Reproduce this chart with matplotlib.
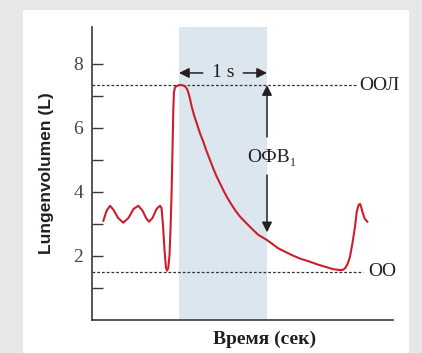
import matplotlib
matplotlib.use("Agg")
import matplotlib.pyplot as plt
from matplotlib.patches import Rectangle

# ---- data (time in s, shaded window = first second; volume in L) ----
time_s = [-0.860, -0.824, -0.784, -0.744, -0.693, -0.633, -0.574, -0.517, -0.4625, -0.415,
          -0.375, -0.341, -0.301, -0.256, -0.216, -0.199, -0.182, -0.165, -0.148, -0.136,
          -0.122, -0.108, -0.097, -0.085, -0.074, -0.065, -0.057, -0.045, -0.026, 0.011,
          0.045, 0.068, 0.091, 0.108, 0.125, 0.144, 0.170, 0.201, 0.239, 0.276,
          0.3125, 0.352, 0.390, 0.428, 0.466, 0.503, 0.545, 0.591, 0.636, 0.693,
          0.750, 0.818, 0.901, 1.000, 1.128, 1.281, 1.375, 1.489, 1.580, 1.678,
          1.750, 1.830, 1.864, 1.892, 1.920, 1.943, 1.972, 2.000, 2.020, 2.040,
          2.057, 2.070, 2.090, 2.110, 2.140]
volume_l = [3.10, 3.41, 3.57, 3.44, 3.19, 3.04, 3.19, 3.47, 3.57, 3.42,
            3.19, 3.07, 3.19, 3.47, 3.57, 3.50, 2.97, 2.19, 1.63, 1.54,
            1.63, 2.03, 2.81, 3.91, 5.31, 6.56, 7.13, 7.27, 7.31, 7.35,
            7.33, 7.30, 7.22, 7.09, 6.91, 6.67, 6.41, 6.15, 5.83, 5.57,
            5.28, 5.00, 4.73, 4.48, 4.27, 4.06, 3.84, 3.63, 3.44, 3.23,
            3.07, 2.88, 2.66, 2.50, 2.24, 2.03, 1.92, 1.82, 1.73, 1.65,
            1.59, 1.56, 1.57, 1.63, 1.78, 1.98, 2.41, 2.92, 3.38, 3.59,
            3.63, 3.53, 3.33, 3.17, 3.07]

tlc_level = 7.34     # ООЛ
rv_level = 1.50      # ОО
window = [0.0, 1.0]  # 1 s
major_ticks = [2, 4, 6, 8]
minor_ticks = [1, 3, 5, 7]
tick_labels = ["2", "4", "6", "8"]

serif = ["Liberation Serif", "DejaVu Serif"]
dark = "#231f20"
axis_col = "#3a3a3a"

fig = plt.figure(figsize=(4.22, 3.53), dpi=100)
fig.patch.set_facecolor("#e6e7e8")
fig.patches.append(Rectangle((23 / 422, 0), (409 - 23) / 422, (353 - 10) / 353,
                             transform=fig.transFigure, facecolor="white",
                             edgecolor="none", zorder=-5))

ax = fig.add_axes([92 / 422, (353 - 320) / 353, (393 - 92) / 422, (320 - 27) / 353])
ax.set_facecolor("none")
ax.set_xlim(-0.989, 2.432)
ax.set_ylim(0, 9.156)

ax.axvspan(window[0], window[1], color="#dce6ef", zorder=0, lw=0)

ax.plot([-0.989, 2.011], [tlc_level, tlc_level], ls=(0, (2.2, 1.6)), color="#333333", lw=0.9, zorder=2)
ax.plot([-0.989, 2.09], [rv_level, rv_level], ls=(0, (2.2, 1.6)), color="#333333", lw=0.9, zorder=2)

ax.plot(time_s, volume_l, color="#cc1f2b", lw=1.5, zorder=3, solid_joinstyle="round")

ax.text(2.045, tlc_level, "ООЛ", family=serif, fontsize=14, color=dark, va="center", ha="left")
ax.text(2.148, rv_level, "ОО", family=serif, fontsize=14, color=dark, va="center", ha="left")

# 1 s arrows
y_arr = 7.72
ap = dict(arrowstyle="-|>,head_length=0.6,head_width=0.3", color=dark, lw=1.1, shrinkA=0, shrinkB=0)
ax.annotate("", xy=(window[0], y_arr), xytext=(0.27, y_arr), arrowprops=ap)
ax.annotate("", xy=(window[1], y_arr), xytext=(0.73, y_arr), arrowprops=ap)
ax.text(0.5, y_arr, "1 s", family=serif, fontsize=14, color=dark, ha="center", va="center")

# ОФВ1 arrows
ax.annotate("", xy=(window[1], tlc_level), xytext=(window[1], 5.72), arrowprops=ap)
ax.annotate("", xy=(window[1], 2.74), xytext=(window[1], 4.53), arrowprops=ap)
ax.text(1.055, 5.08, "ОФВ₁", family=serif, fontsize=14, color=dark, ha="center", va="center")

for s in ["top", "right"]:
    ax.spines[s].set_visible(False)
for s in ["left", "bottom"]:
    ax.spines[s].set_color(axis_col)
    ax.spines[s].set_linewidth(1.2)

ax.set_xticks([])
ax.set_yticks(major_ticks)
ax.set_yticklabels(tick_labels, family=serif, fontsize=14, color="#444444")
ax.set_yticks(minor_ticks, minor=True)
ax.tick_params(axis="y", which="both", direction="in", length=8, width=1, color=axis_col, pad=6.5)

ax.set_ylabel("Lungenvolumen (L)", family=["Liberation Sans", "DejaVu Sans"], fontweight="bold",
              fontsize=12.5, color=dark, labelpad=14)
fig.text(265 / 422, 1 - 339 / 353, "Время (сек)", family=serif, fontweight="bold",
         fontsize=14, color=dark, ha="center", va="center")

fig.savefig("out.png", dpi=100, facecolor=fig.get_facecolor())
